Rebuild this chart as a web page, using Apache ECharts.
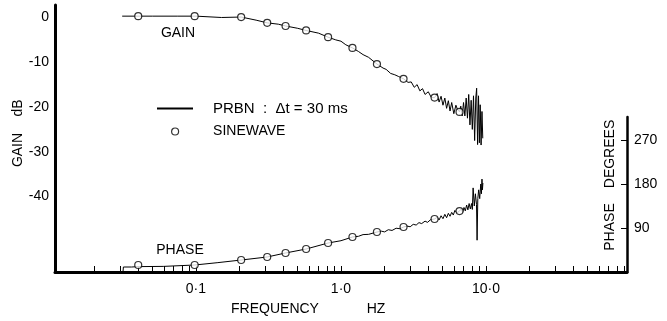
<!DOCTYPE html>
<html>
<head>
<meta charset="utf-8">
<script src="https://cdn.jsdelivr.net/npm/echarts@6.0.0/dist/echarts.min.js"></script>
<style>
  html, body { margin: 0; padding: 0; background: #fff; }
  #chart { width: 667px; height: 321px; }
</style>
</head>
<body>
<div id="chart"></div>
<script>
// frequency axis (Hz), drawn on a log10 value axis
const freqMin = 0.01067;
const freqMax = 93.8;
const xLabelFreqs = [0.1, 1, 10];
const xLabelText = ['0·1', '1·0', '10·0'];
const xTickFreqs = [
  0.02, 0.03, 0.04, 0.05, 0.06, 0.07, 0.08, 0.09,
  0.1, 0.2, 0.3, 0.4, 0.5, 0.6, 0.7, 0.8, 0.9,
  1, 2, 3, 4, 5, 6, 7, 8, 9,
  10, 20, 30, 40, 50, 60, 70, 80, 90
];
const gainTicks = [0, -10, -20, -30, -40];
const phaseTicks = [90, 180, 270];

// sinewave test points
const sineFreq = [0.04, 0.098, 0.205, 0.31, 0.415, 0.575, 0.815, 1.2, 1.77, 2.7, 4.42, 6.57];
const sineGain = [0.3, 0.3, 0.1, -1.2, -1.9, -2.9, -4.4, -6.8, -10.4, -13.7, -17.9, -21.1];
const sinePhase = [14.3, 14.3, 24.5, 30.7, 38.9, 47.0, 59.3, 71.6, 81.8, 92.0, 108.4, 124.7];

// PRBN estimate [Hz, dB]
const prbnGain = [
  [0.031, 0.3], [0.05, 0.3], [0.075, 0.3], [0.1, 0.3], [0.15, 0.0], [0.205, 0.1],
  [0.26, -0.6], [0.31, -1.2], [0.37, -1.5], [0.415, -1.9], [0.5, -2.4], [0.575, -2.9],
  [0.7, -3.5], [0.815, -4.4], [0.92, -5.0], [1.0, -5.3], [1.08, -6.1], [1.2, -6.8],
  [1.32, -7.6], [1.42, -8.3], [1.55, -8.9], [1.77, -10.4], [1.95, -11.3], [2.05, -11.6],
  [2.2, -12.5], [2.35, -12.8], [2.5, -13.2], [2.7, -13.7], [2.9, -14.5], [3.05, -14.4],
  [3.2, -15.6], [3.35, -15.0], [3.5, -16.4], [3.65, -15.9], [3.8, -17.2], [4.0, -16.6],
  [4.2, -17.9], [4.42, -17.9], [4.6, -17.0], [4.75, -18.9], [4.9, -17.6], [5.05, -19.6],
  [5.2, -18.0], [5.35, -20.3], [5.5, -18.6], [5.65, -20.9], [5.8, -19.0], [6.0, -21.5],
  [6.2, -19.6], [6.35, -20.5], [6.57, -21.1], [6.7, -19.8], [6.85, -22.0], [7.0, -19.0],
  [7.15, -22.0], [7.3, -18.0], [7.45, -22.5], [7.6, -17.2], [7.75, -24.0], [7.9, -18.5],
  [8.05, -25.0], [8.2, -17.5], [8.35, -27.5], [8.5, -18.0], [8.62, -15.8], [8.75, -28.4],
  [8.88, -17.5], [9.0, -28.0], [9.12, -19.5], [9.25, -28.5], [9.38, -21.0], [9.5, -27.0]
];

// PRBN estimate [Hz, degrees]
const prbnPhase = [
  [0.0314, 0], [0.0316, 10.2], [0.036, 10.2], [0.04, 11], [0.06, 11.5], [0.098, 14.3],
  [0.14, 19], [0.205, 24.5], [0.31, 30.7], [0.415, 38.9], [0.575, 47.0], [0.815, 59.3],
  [1.0, 64], [1.2, 71.6], [1.32, 73], [1.42, 76.5], [1.55, 77], [1.77, 81.8],
  [1.9, 83.5], [2.0, 82], [2.12, 86.5], [2.25, 85], [2.4, 89.5], [2.55, 88.5],
  [2.7, 92], [2.85, 94], [3.0, 92.5], [3.15, 97.5], [3.3, 96], [3.45, 101],
  [3.6, 99], [3.8, 104], [3.95, 101.5], [4.15, 107], [4.42, 108.4], [4.6, 112],
  [4.75, 106.5], [4.9, 115], [5.05, 109], [5.2, 118], [5.35, 111], [5.5, 120],
  [5.65, 114], [5.8, 122], [5.95, 116.5], [6.1, 126], [6.3, 121], [6.57, 124.7],
  [6.75, 129], [6.9, 122], [7.05, 132], [7.2, 125], [7.35, 137], [7.5, 127],
  [7.65, 140], [7.8, 129], [7.95, 140], [8.05, 128], [8.15, 172], [8.3, 135],
  [8.45, 160], [8.6, 138], [8.68, 65], [8.78, 150], [8.9, 168], [9.05, 150],
  [9.2, 180], [9.3, 160], [9.38, 190], [9.45, 168], [9.52, 182]
];

const PRBN = 'PRBN  :  Δt = 30 ms';
const SINE = 'SINEWAVE';
const font = 'Liberation Sans, Arial, sans-serif';
const ink = '#000';

const lg = v => Math.log10(v);
const toXY = pts => pts.map(p => [lg(p[0]), p[1]]);

const xRange = { type: 'value', min: lg(freqMin), max: lg(freqMax) };

const lineStyleSeries = { color: ink, width: 1 };
const circleStyle = { color: '#fff', borderColor: ink, borderWidth: 1.2 };

function text(str, x, y, rot) {
  return {
    type: 'text', x: x, y: y, rotation: rot || 0,
    style: { text: str, fill: ink, font: '14px ' + font, align: 'center', verticalAlign: 'middle' }
  };
}

const option = {
  animation: false,
  backgroundColor: '#fff',
  textStyle: { fontFamily: font, color: ink },
  grid: [
    { left: 55, right: 40, top: 5, bottom: 49, outerBoundsMode: 'none' },
    { left: 55, right: 40, top: 117, bottom: 49, outerBoundsMode: 'none' }
  ],
  xAxis: [
    Object.assign({}, xRange, {
      gridIndex: 0,
      axisLine: { onZero: false, lineStyle: { color: ink, width: 3 } },
      axisTick: { inside: true, length: 6, customValues: xTickFreqs.map(lg), lineStyle: { color: ink, width: 1 } },
      axisLabel: {
        customValues: xLabelFreqs.map(lg), margin: 10,
        color: ink, fontSize: 14, fontFamily: font,
        formatter: v => xLabelText[xLabelFreqs.findIndex(f => Math.abs(lg(f) - v) < 1e-6)]
      },
      splitLine: { show: false }
    }),
    Object.assign({}, xRange, { gridIndex: 1, show: false })
  ],
  yAxis: [
    {
      type: 'value', gridIndex: 0, min: -56.87, max: 2.79,
      axisLine: { show: true, onZero: false, lineStyle: { color: ink, width: 3 } },
      axisTick: { show: false },
      axisLabel: { customValues: gainTicks, margin: 6, color: ink, fontSize: 14, fontFamily: font },
      splitLine: { show: false }
    },
    {
      type: 'value', gridIndex: 1, position: 'right', min: 0, max: 317,
      axisLine: { show: true, onZero: false, lineStyle: { color: ink, width: 2.5 } },
      axisTick: { show: true, inside: true, length: 6, customValues: phaseTicks, lineStyle: { color: ink, width: 1 } },
      axisLabel: { customValues: phaseTicks, margin: 7, color: ink, fontSize: 14, fontFamily: font },
      splitLine: { show: false }
    }
  ],
  legend: [
    {
      left: 157, top: 101, padding: 0, orient: 'vertical', selectedMode: false,
      itemWidth: 36, itemHeight: 2,
      textStyle: { color: ink, fontSize: 15, fontFamily: font, padding: [0, 0, 0, 15] },
      data: [{ name: PRBN, icon: 'rect', itemStyle: { color: ink, borderWidth: 0 } }]
    },
    {
      left: 171, top: 124.5, padding: 0, orient: 'vertical', selectedMode: false,
      itemWidth: 36, itemHeight: 7,
      textStyle: { color: ink, fontSize: 14, fontFamily: font, padding: [0, 0, 0, 15] },
      data: [{ name: SINE, icon: 'circle', itemStyle: circleStyle }]
    }
  ],
  graphic: [
    text('GAIN', 178, 33),
    text('PHASE', 180, 250),
    text('FREQUENCY', 275, 309),
    text('HZ', 376, 309),
    text('GAIN', 18, 150, Math.PI / 2),
    text('dB', 18, 108, Math.PI / 2),
    text('PHASE', 610, 227, Math.PI / 2),
    text('DEGREES', 610, 154, Math.PI / 2)
  ],
  series: [
    {
      name: PRBN, type: 'line', xAxisIndex: 0, yAxisIndex: 0,
      data: toXY(prbnGain), symbol: 'none', lineStyle: lineStyleSeries, itemStyle: { color: ink }
    },
    {
      name: PRBN, type: 'line', xAxisIndex: 1, yAxisIndex: 1, clip: false,
      data: toXY(prbnPhase), symbol: 'none', lineStyle: lineStyleSeries, itemStyle: { color: ink }
    },
    {
      name: SINE, type: 'scatter', xAxisIndex: 0, yAxisIndex: 0, z: 5,
      data: sineFreq.map((f, i) => [lg(f), sineGain[i]]),
      symbol: 'circle', symbolSize: 7, itemStyle: circleStyle
    },
    {
      name: SINE, type: 'scatter', xAxisIndex: 1, yAxisIndex: 1, z: 5,
      data: sineFreq.map((f, i) => [lg(f), sinePhase[i]]),
      symbol: 'circle', symbolSize: 7, itemStyle: circleStyle
    }
  ]
};

const chart = echarts.init(document.getElementById('chart'), null, { renderer: 'canvas' });
chart.setOption(option);
</script>
</body>
</html>
